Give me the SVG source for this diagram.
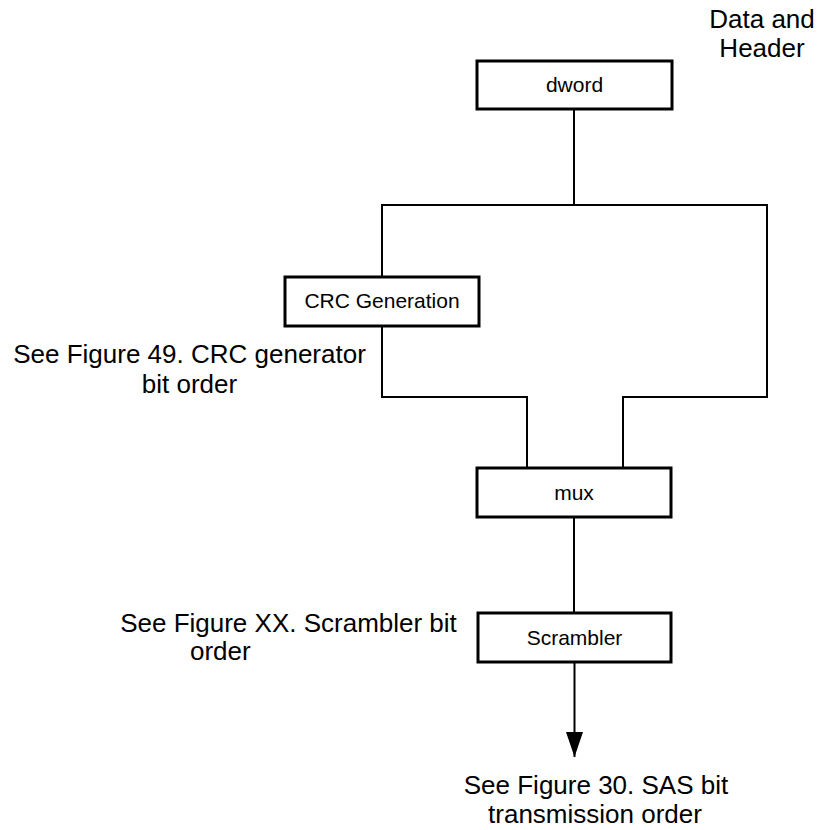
<svg xmlns="http://www.w3.org/2000/svg" width="819" height="830" viewBox="0 0 819 830">
  <style>
    .box { fill: #ffffff; stroke: #000000; stroke-width: 3; }
    .btxt { font-family: "Liberation Sans", Arial, sans-serif; font-size: 21px; fill: #000000; text-anchor: middle; }
    .lbl { font-family: "Liberation Sans", Arial, sans-serif; font-size: 26px; fill: #000000; }
    .mid { text-anchor: middle; }
    .wire { fill: none; stroke: #000000; stroke-width: 2; }
  </style>
  <defs>
    <marker id="arrow" markerUnits="userSpaceOnUse" markerWidth="26" markerHeight="18" refX="25" refY="9" orient="auto" viewBox="0 0 26 18">
      <path d="M0,0.5 L25,9 L0,17.5 Z" fill="#000000"/>
    </marker>
  </defs>
  <rect width="819" height="830" fill="#ffffff"/>

  <g id="connectors">
    <path class="wire" d="M574,109 V205"/>
    <path class="wire" d="M382,277 V205 H767 V397 H623 V468"/>
    <path class="wire" d="M382,326 V397 H527 V468"/>
    <path class="wire" d="M574,517 V613"/>
    <line class="wire" x1="574.5" y1="662" x2="574.5" y2="757" marker-end="url(#arrow)"/>
  </g>

  <g id="label-data-header">
    <text class="lbl mid" x="762" y="28">Data and</text>
    <text class="lbl mid" x="762" y="57">Header</text>
  </g>

  <g id="node-dword">
    <rect class="box" x="477" y="61" width="195" height="48"/>
    <text class="btxt" x="574.5" y="92">dword</text>
  </g>

  <g id="node-crc">
    <rect class="box" x="285" y="277" width="194" height="49"/>
    <text class="btxt" x="382" y="308">CRC Generation</text>
  </g>

  <g id="label-crc">
    <text class="lbl mid" x="189.5" y="363">See Figure 49. CRC generator</text>
    <text class="lbl mid" x="189.5" y="393">bit order</text>
  </g>

  <g id="node-mux">
    <rect class="box" x="477" y="468" width="194" height="49"/>
    <text class="btxt" x="574" y="500">mux</text>
  </g>

  <g id="label-scrambler">
    <text class="lbl mid" x="288.5" y="632">See Figure XX. Scrambler bit</text>
    <text class="lbl" x="190" y="660">order</text>
  </g>

  <g id="node-scrambler">
    <rect class="box" x="478" y="613" width="193" height="49"/>
    <text class="btxt" x="574.5" y="645">Scrambler</text>
  </g>

  <g id="label-sas">
    <text class="lbl mid" x="596" y="794">See Figure 30. SAS bit</text>
    <text class="lbl mid" x="595" y="823">transmission order</text>
  </g>
</svg>
